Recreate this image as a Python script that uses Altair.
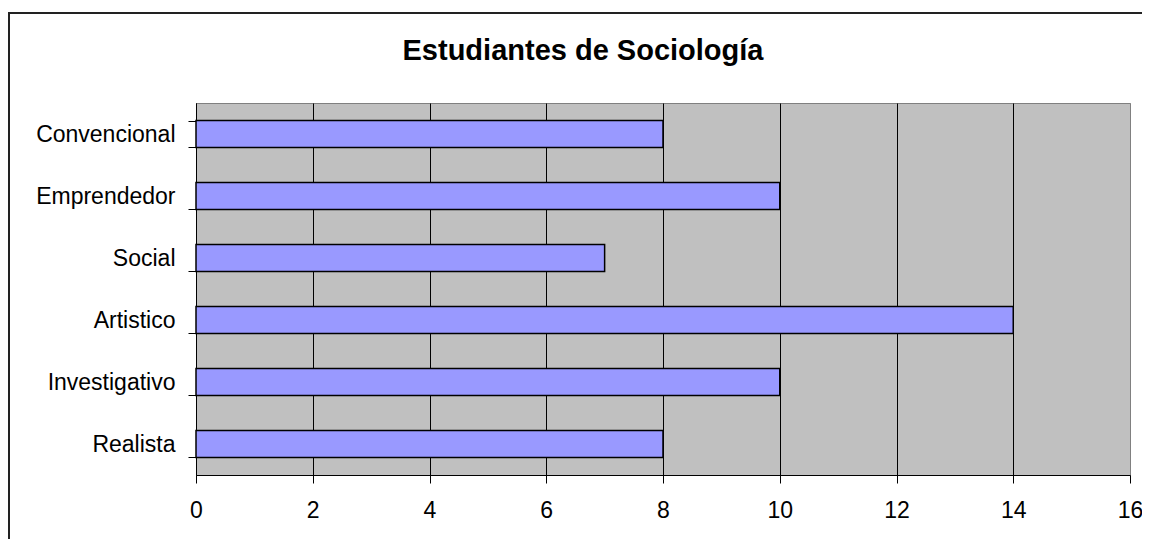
import altair as alt
import pandas as pd

categories = ["Convencional", "Emprendedor", "Social", "Artistico", "Investigativo", "Realista"]
values = [8, 10, 7, 14, 10, 8]
x_ticks = [0, 2, 4, 6, 8, 10, 12, 14, 16]
title_text = "Estudiantes de Sociología"

df = pd.DataFrame({"cat": categories, "value": values})
one = pd.DataFrame({"t": [title_text]})

W, H = 934, 372
FONT = "Liberation Sans"

bars = alt.Chart(df).mark_bar(
    color="#9999FF", stroke="black", strokeWidth=1.5
).encode(
    x=alt.X(
        "value:Q",
        scale=alt.Scale(domain=[0, 16], nice=False),
        axis=alt.Axis(
            values=x_ticks, title=None, grid=True,
            gridColor={"condition": {"test": "datum.value === 16", "value": "#808080"}, "value": "black"},
            gridWidth=1, domainColor="black", tickColor="black", tickSize=8,
            labelFont=FONT, labelFontSize=23, labelColor="black", labelPadding=16,
            labelFlush=False,
        ),
    ),
    y=alt.Y(
        "cat:N", sort=categories,
        scale=alt.Scale(paddingInner=0.565, paddingOuter=0.2825),
        axis=alt.Axis(
            title=None, tickBand="extent", grid=False,
            domainColor="black", tickColor="black", tickSize=8,
            labelFont=FONT, labelFontSize=23, labelColor="black", labelPadding=13,
        ),
    ),
)

title = alt.Chart(one).mark_text(
    font=FONT, fontSize=29, fontWeight="bold", color="black",
    align="center", baseline="alphabetic",
).encode(x=alt.value(387), y=alt.value(-43), text="t:N")

border_top = alt.Chart(one).mark_rule(color="#222222", strokeWidth=2).encode(
    x=alt.value(-188), x2=alt.value(W + 12), y=alt.value(-90)
)
border_left = alt.Chart(one).mark_rule(color="#222222", strokeWidth=2).encode(
    x=alt.value(-187), y=alt.value(-91), y2=alt.value(H + 64)
)

chart = alt.layer(bars, title, border_top, border_left).properties(
    width=W, height=H,
    autosize=alt.AutoSizeParams(type="none"),
    padding={"left": 188, "top": 95, "right": 12, "bottom": 64},
    background="white",
).configure_view(fill="#C0C0C0", stroke="#808080", strokeWidth=1)

chart.save("out.html", embed_options={"renderer": "svg", "actions": False})
